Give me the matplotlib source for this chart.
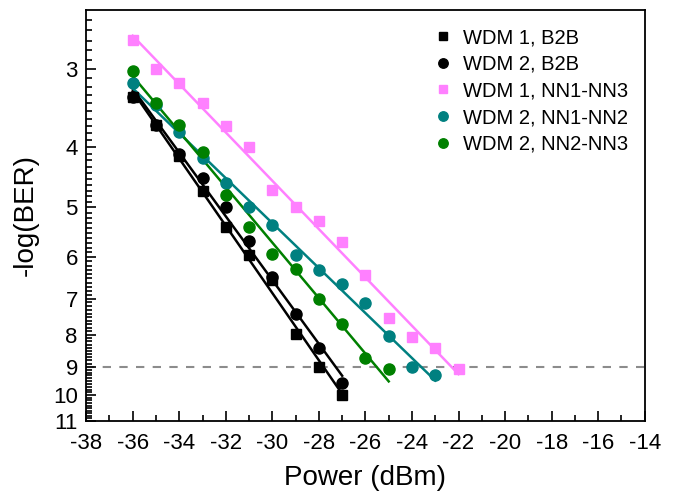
import numpy as np
import matplotlib
matplotlib.use('Agg')
import matplotlib.pyplot as plt
from matplotlib.ticker import FixedLocator, NullFormatter, FixedFormatter

plt.rcParams['font.family'] = ['Liberation Sans', 'DejaVu Sans']
plt.rcParams['axes.unicode_minus'] = False

# received power (dBm)
power = [-36, -35, -34, -33, -32, -31, -30, -29, -28, -27, -26, -25, -24, -23, -22]

# -log(BER)
wdm1_b2b = [3.33, 3.69, 4.13, 4.71, 5.38, 5.95, 6.53, 7.97, 9.00, 9.99]
wdm2_b2b = [3.32, 3.69, 4.10, 4.49, 5.00, 5.65, 6.46, 7.40, 8.39, 9.56]
wdm1_nn13 = [2.69, 3.00, 3.16, 3.40, 3.70, 4.00, 4.69, 5.00, 5.25, 5.69, 6.41, 7.51, 8.06, 8.39, 9.08]
wdm2_nn12 = [3.16, 3.43, 3.79, 4.16, 4.56, 5.00, 5.33, 5.95, 6.29, 6.63, 7.11, 8.03, 9.00, 9.28]
wdm2_nn23 = [3.02, 3.40, 3.69, 4.08, 4.77, 5.38, 5.93, 6.27, 7.00, 7.68, 8.71, 9.08]

series = [
    ('WDM 1, B2B', wdm1_b2b, 'black', 's', 7.2),
    ('WDM 2, B2B', wdm2_b2b, 'black', 'o', 8),
    ('WDM 1, NN1-NN3', wdm1_nn13, '#ff80ff', 's', 7.2),
    ('WDM 2, NN1-NN2', wdm2_nn12, '#008080', 'o', 8),
    ('WDM 2, NN2-NN3', wdm2_nn23, '#008000', 'o', 8),
]

fig = plt.figure(figsize=(6.73, 4.94), dpi=100)
ax = fig.add_axes([0.128, 0.148, 0.83, 0.832])
ax.set_yscale('log')

ax.axhline(9, color='#8c8c8c', lw=1.5, ls=(0, (4, 4)), zorder=1)

handles = []
for label, vals, color, marker, ms in series:
    x = np.array(power[:len(vals)], dtype=float)
    y = np.array(vals)
    # linear fit on the log axis
    k, b = np.polyfit(x, np.log10(y), 1)
    xf = np.array([x[0], x[-1]])
    ax.plot(xf, 10 ** (k * xf + b), color=color, lw=1.8, zorder=2)
    h, = ax.plot(x, y, ls='none', marker=marker, ms=ms, color=color,
                 mec=color, zorder=3, label=label)
    handles.append(h)

ax.set_xlim(-38, -14)
ax.set_ylim(11, 2.41)
ax.set_xticks(np.arange(-38, -13, 2))
ax.set_xticks(np.arange(-37, -14, 2), minor=True)

yticks = [3, 4, 5, 6, 7, 8, 9, 10, 11]
ax.yaxis.set_major_locator(FixedLocator(yticks))
ax.yaxis.set_major_formatter(FixedFormatter([str(t) for t in yticks]))
yminor = [v / 10 for v in range(25, 110) if v % 10 != 0]
ax.yaxis.set_minor_locator(FixedLocator(yminor))
ax.yaxis.set_minor_formatter(NullFormatter())

ax.tick_params(which='both', direction='in', top=False, right=False,
               labelsize=16, width=1.2)
ax.tick_params(which='major', length=7)
ax.tick_params(axis='x', which='major', pad=9)
ax.tick_params(axis='y', which='major', pad=6)
ax.tick_params(which='minor', length=4)
for s in ax.spines.values():
    s.set_linewidth(1.3)

ax.set_xlabel('Power (dBm)', fontsize=20, labelpad=8)
ax.set_ylabel('-log(BER)', fontsize=20, labelpad=10)

ax.legend(handles=handles, loc='upper left', bbox_to_anchor=(0.6, 0.99),
          frameon=False, fontsize=14.5, handlelength=0.8, handletextpad=0.55,
          labelspacing=0.38, markerscale=0.85, borderpad=0.2)

fig.savefig('out.png', dpi=100)
